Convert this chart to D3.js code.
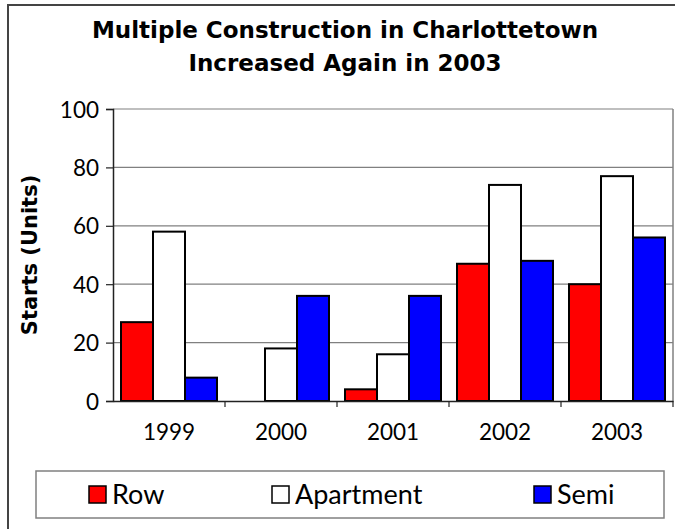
<!DOCTYPE html>
<html>
<head>
<meta charset="utf-8">
<script src="https://cdn.jsdelivr.net/npm/d3@7"></script>
<style>
  body { margin: 0; background: #fff; }
  text { font-family: "Lato", "Open Sans", sans-serif; fill: #000; }
  .bold { font-family: "DejaVu Sans", sans-serif; font-weight: bold; }
</style>
</head>
<body>
<div id="chart"></div>
<script>
// data
var years = ["1999", "2000", "2001", "2002", "2003"];
var seriesNames = ["Row", "Apartment", "Semi"];
var seriesColors = ["#ff0000", "#ffffff", "#0000ff"];
var rowStarts = [27, 0, 4, 47, 40];
var apartmentStarts = [58, 18, 16, 74, 77];
var semiStarts = [8, 36, 36, 48, 56];
var yTicks = [0, 20, 40, 60, 80, 100];

var width = 675, height = 529;
var plotLeft = 113, plotRight = 673, plotTop = 109, plotBottom = 401;

var svg = d3.select("#chart").append("svg")
  .attr("width", width)
  .attr("height", height);

// outer chart border
svg.append("rect")
  .attr("x", 8).attr("y", 5)
  .attr("width", 700).attr("height", 560)
  .attr("fill", "none")
  .attr("stroke", "#444")
  .attr("stroke-width", 2);

var x0 = d3.scaleBand().domain(years).range([plotLeft, plotRight]);
var x1 = d3.scaleBand().domain(seriesNames).range([0, x0.bandwidth()]).paddingOuter(0.25).paddingInner(0);
var y = d3.scaleLinear().domain([0, 100]).range([plotBottom, plotTop]);

// gridlines
svg.append("g")
  .selectAll("line")
  .data(yTicks.filter(d => d > 0))
  .enter().append("line")
  .attr("x1", plotLeft).attr("x2", plotRight)
  .attr("y1", d => y(d)).attr("y2", d => y(d))
  .attr("stroke", "#808080")
  .attr("stroke-width", 1.2);

// right plot border
svg.append("line")
  .attr("x1", plotRight).attr("x2", plotRight)
  .attr("y1", plotTop).attr("y2", plotBottom)
  .attr("stroke", "#808080")
  .attr("stroke-width", 1.5);

var table = years.map(function(yr, i) {
  return { year: yr, values: [rowStarts[i], apartmentStarts[i], semiStarts[i]] };
});

var groups = svg.append("g").selectAll("g")
  .data(table)
  .enter().append("g")
  .attr("transform", d => "translate(" + x0(d.year) + ",0)");

groups.selectAll("rect")
  .data(d => d.values.map((v, j) => ({ name: seriesNames[j], value: v, color: seriesColors[j] })).filter(d => d.value > 0))
  .enter().append("rect")
  .attr("x", d => x1(d.name))
  .attr("y", d => y(d.value))
  .attr("width", x1.bandwidth())
  .attr("height", d => y(0) - y(d.value))
  .attr("fill", d => d.color)
  .attr("stroke", "#000")
  .attr("stroke-width", 2);

// y axis
var yAxis = d3.axisLeft(y).tickValues(yTicks).tickSize(7).tickPadding(7).tickFormat(d3.format("d"));
var yg = svg.append("g").attr("transform", "translate(" + plotLeft + ",0)").call(yAxis);
yg.attr("font-family", null).attr("font-size", null);
yg.select(".domain").attr("stroke", "#222").attr("stroke-width", 1.5);
yg.selectAll(".tick line").attr("stroke", "#222").attr("stroke-width", 1.2);
yg.selectAll(".tick text").style("font-size", "22.5px").attr("dy", "0.36em");

// x axis, ticks at category boundaries
var xAxis = d3.axisBottom(x0).tickSize(0).tickPadding(23);
var xg = svg.append("g").attr("transform", "translate(0," + plotBottom + ")").call(xAxis);
xg.attr("font-family", null).attr("font-size", null);
xg.select(".domain").attr("stroke", "#222").attr("stroke-width", 1.5);
xg.selectAll(".tick text").style("font-size", "22.5px");
xg.selectAll(".bound")
  .data(years)
  .enter().append("line")
  .attr("class", "bound")
  .attr("x1", d => x0(d) + x0.bandwidth())
  .attr("x2", d => x0(d) + x0.bandwidth())
  .attr("y1", 0).attr("y2", 6)
  .attr("stroke", "#222").attr("stroke-width", 1.2);

// titles
svg.append("text")
  .attr("class", "bold")
  .attr("x", 345).attr("y", 38)
  .attr("text-anchor", "middle")
  .style("font-size", "23px")
  .text("Multiple Construction in Charlottetown");
svg.append("text")
  .attr("class", "bold")
  .attr("x", 345).attr("y", 71)
  .attr("text-anchor", "middle")
  .style("font-size", "23px")
  .text("Increased Again in 2003");

svg.append("text")
  .attr("class", "bold")
  .attr("transform", "translate(37," + ((plotTop + plotBottom) / 2) + ") rotate(-90)")
  .attr("text-anchor", "middle")
  .style("font-size", "21px")
  .text("Starts (Units)");

// legend
var legend = svg.append("g");
legend.append("rect")
  .attr("x", 36).attr("y", 471)
  .attr("width", 628).attr("height", 47)
  .attr("fill", "#fff")
  .attr("stroke", "#808080")
  .attr("stroke-width", 1.5);

var legendX = [89, 272, 534];
var items = legend.selectAll(".item")
  .data(seriesNames)
  .enter().append("g")
  .attr("class", "item")
  .attr("transform", (d, i) => "translate(" + legendX[i] + ",486)");
items.append("rect")
  .attr("width", 17).attr("height", 17)
  .attr("fill", (d, i) => seriesColors[i])
  .attr("stroke", "#000")
  .attr("stroke-width", 1.5);
items.append("text")
  .attr("x", 23).attr("y", 18)
  .style("font-size", "27px")
  .text(d => d);
</script>
</body>
</html>
